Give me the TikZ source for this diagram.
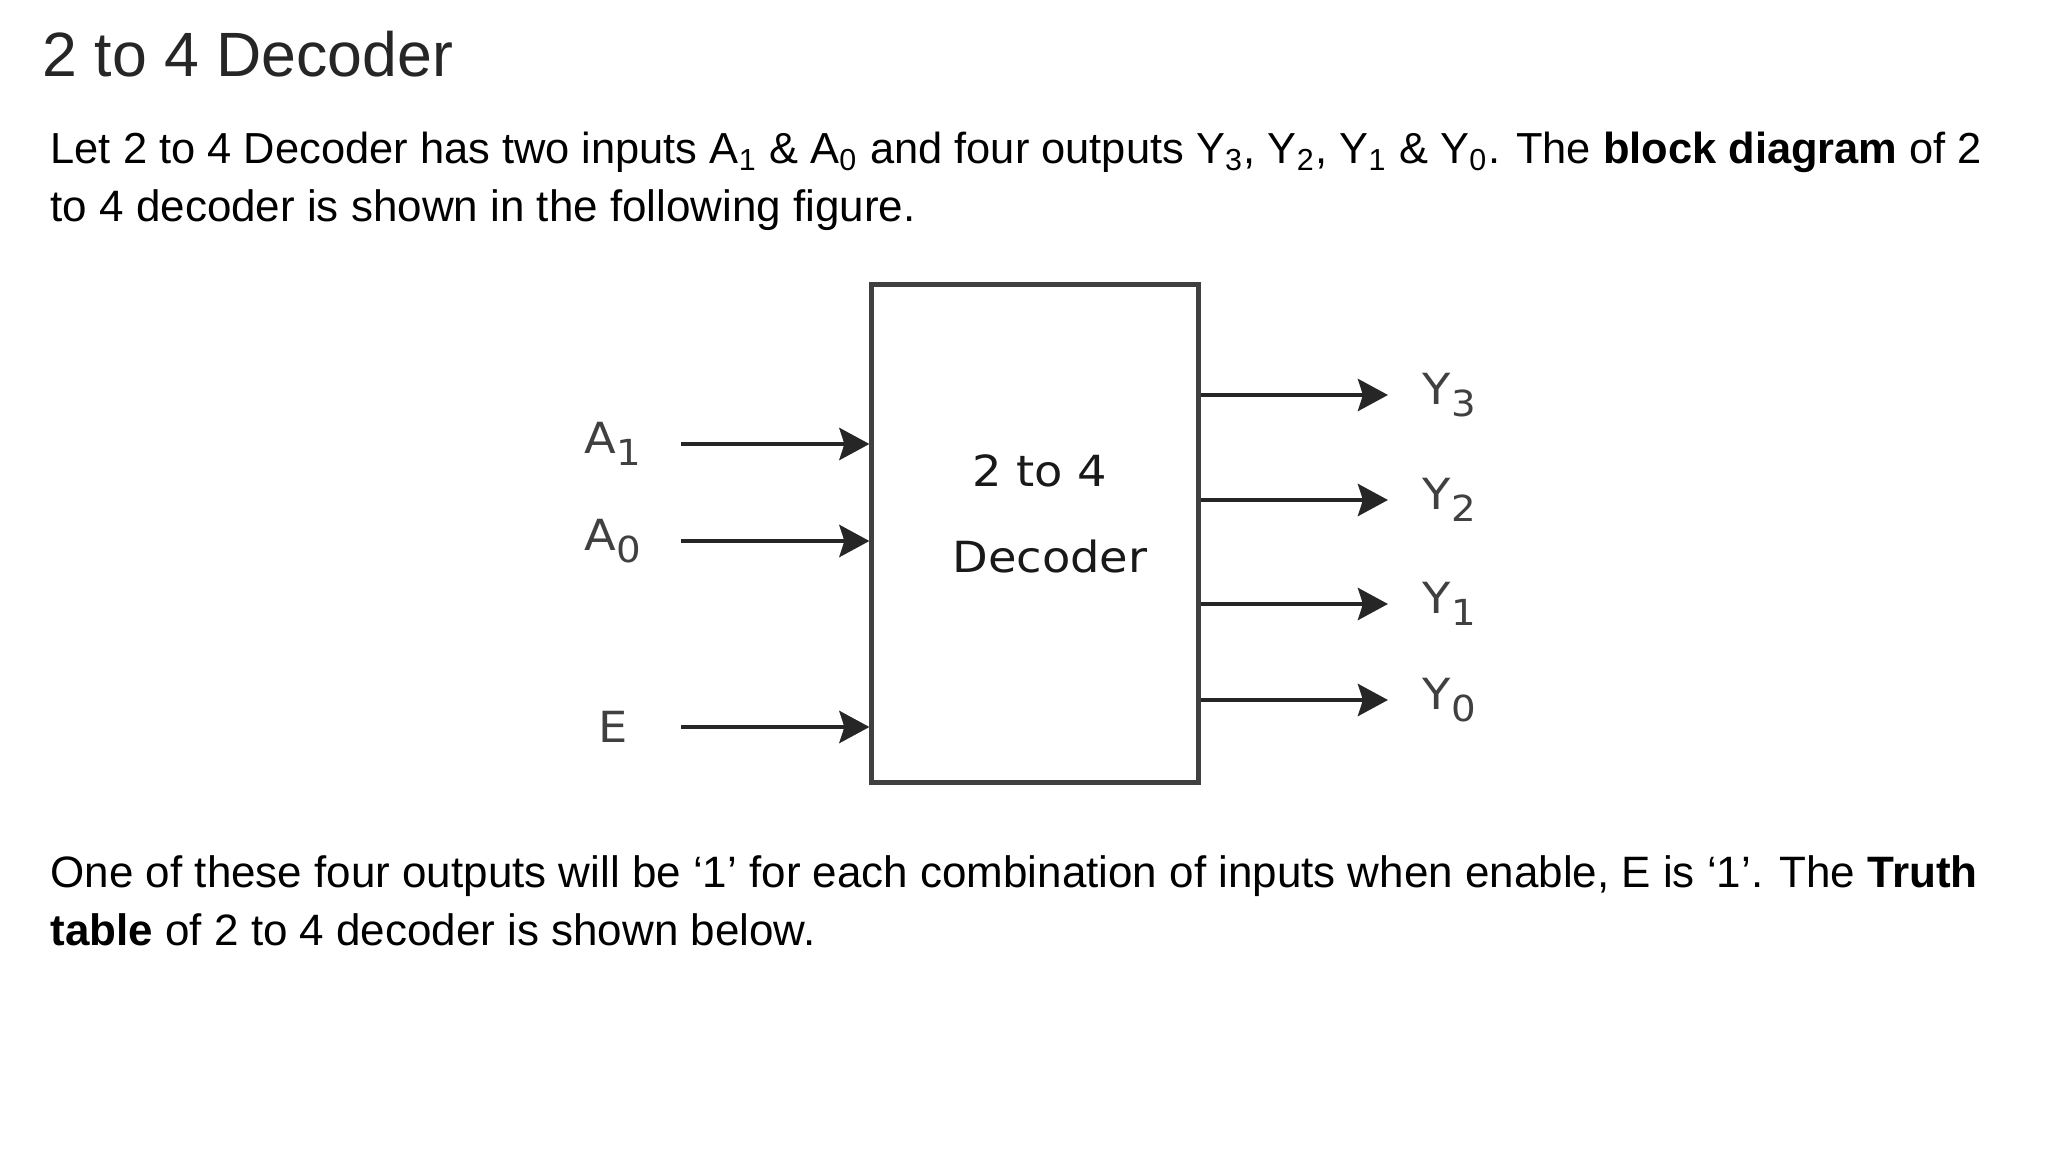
\documentclass[tikz,border=0pt]{standalone}
\usepackage{fontspec}
\setmainfont{Liberation Sans}
\newfontfamily\diagfont[FakeStretch=1.08]{DejaVu Sans}
\usetikzlibrary{arrows.meta}

% lowered index for the block labels
\newcommand{\lowidx}[1]{\raisebox{-0.28em}{\fontsize{10.2pt}{11pt}\selectfont #1}}

\begin{document}
\begin{tikzpicture}[x=0.01cm,y=-0.01cm,
    txt/.style={anchor=base west,inner sep=0pt,font=\fontsize{12.5pt}{15pt}\selectfont},
    lbl/.style={inner sep=0pt,text=black!75,font=\diagfont\fontsize{12.2pt}{14pt}\selectfont},
    sig/.style={line width=1.3pt,draw=black!85,
        -{Stealth[length=0.3cm,width=0.32cm,inset=0.05cm]}}]
    \useasboundingbox[fill=white] (0,0) rectangle (2048,1152);

    \node[txt,font=\fontsize{17.8pt}{20pt}\selectfont,text=black!85] (title)
        at (42,77) {2 to 4 Decoder};
    \node[txt,font=\fontsize{12.35pt}{15pt}\selectfont] (p1a) at (50,164)
        {Let 2 to 4 Decoder has two inputs A\textsubscript{1} \& A\textsubscript{0} and four outputs Y\textsubscript{3}, Y\textsubscript{2}, Y\textsubscript{1} \& Y\textsubscript{0}. The \textbf{block diagram} of 2};
    \node[txt] (p1b) at (50,222)
        {to 4 decoder is shown in the following figure.};

    % block
    \node[draw=black!75,line width=1.42pt,minimum width=3.26cm,
        minimum height=4.97cm] (dec) at (1035,533.5) {};
    \node[lbl,text=black!90] (dtop) at (1040,471) {2 to 4};
    \node[lbl,text=black!90] (dbot) at (1050,557) {Decoder};

    % inputs
    \node[lbl] (a1) at (613,444) {A\lowidx{1}};
    \node[lbl] (a0) at (613,541) {A\lowidx{0}};
    \node[lbl] (en) at (613,727) {E};
    \foreach \n in {a1,a0,en}
        \draw[sig] ([xshift=-1.88cm]dec.west |- \n) -- (dec.west |- \n);

    % outputs
    \node[lbl,anchor=west] (y3) at (1422,395) {Y\lowidx{3}};
    \node[lbl,anchor=west] (y2) at (1422,500) {Y\lowidx{2}};
    \node[lbl,anchor=west] (y1) at (1422,604) {Y\lowidx{1}};
    \node[lbl,anchor=west] (y0) at (1422,700) {Y\lowidx{0}};
    \foreach \n in {y3,y2,y1,y0}
        \draw[sig] (dec.east |- \n) -- ([xshift=-0.34cm]\n.west);

    \node[txt] (p2a) at (50,887)
        {One of these four outputs will be `1' for each combination of inputs when enable, E is `1'. The \textbf{Truth}};
    \node[txt] (p2b) at (50,945)
        {\textbf{table} of 2 to 4 decoder is shown below.};
\end{tikzpicture}
\end{document}
